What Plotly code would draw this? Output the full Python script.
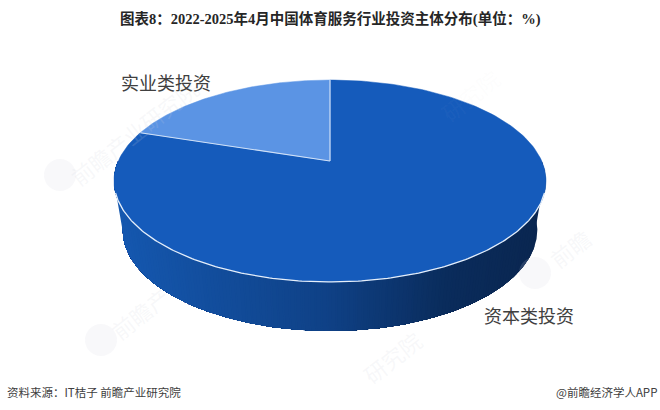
import numpy as np
import plotly.graph_objects as go

categories = ["资本类投资", "实业类投资"]
values = [80, 20]
slice_colors = ["#155BBB", "#5B94E4"]
title = "图表8：2022-2025年4月中国体育服务行业投资主体分布(单位：%)"
source = "资料来源：IT桔子 前瞻产业研究院"
credit = "@前瞻经济学人APP"

W, H = 660, 410
CX, CY = 330, 161
A, B, K = 211.7, 97.0, 0.198
DEPTH = 49
BOTTOM_SCALE = 0.96
SERIF = "Liberation Serif, Noto Sans CJK SC"
SANS = "Noto Sans CJK SC"


def project(phi):
    u, v = np.sin(phi), -np.cos(phi)
    d = 1 - K * v
    return CX + A * u / d, CY + B * v / d


def lerp_color(x):
    xs = [114, 330, 450, 546]
    r = np.interp(x, xs, [0x15, 0x0F, 0x0A, 0x0A])
    g = np.interp(x, xs, [0x58, 0x41, 0x2C, 0x26])
    b = np.interp(x, xs, [0xB0, 0x86, 0x5C, 0x50])
    return f"rgb({r:.0f},{g:.0f},{b:.0f})"


fig = go.Figure()

# extruded side: painted right to left, each shape covering everything left of it,
# so that neighbouring colours leave no seams; the far rim is slightly narrower
phis = np.linspace(np.pi * 0.5, np.pi * 1.5, 400)
rx, ry = project(phis)
bx = CX + BOTTOM_SCALE * (rx - CX)
by = ry + DEPTH
for x_edge in np.arange(546, 112, -3.0):
    keep = rx <= x_edge
    col = lerp_color(x_edge)
    fig.add_trace(go.Scatter(
        x=[*rx[keep], *bx[keep][::-1]],
        y=[*ry[keep], *by[keep][::-1]],
        mode="lines", fill="toself", fillcolor=col,
        line=dict(color=col, width=0), hoverinfo="skip", showlegend=False))

# top face slices, clockwise from twelve o'clock
total = sum(values)
start = 0.0
bounds = []
for cat, val, col in zip(categories, values, slice_colors):
    end = start + val / total * 2 * np.pi
    t = np.linspace(start, end, 200)
    x, y = project(t)
    fig.add_trace(go.Scatter(
        x=[CX, *x, CX], y=[CY, *y, CY], mode="lines", fill="toself",
        fillcolor=col, line=dict(color=col, width=0.5), name=cat,
        hoverinfo="name", showlegend=False))
    bounds.append(end)
    start = end

# pale edges: the radii between the slices and the front rim
rim = "#E6EFFA"
for phi in [0.0, bounds[0]]:
    x, y = project(np.array([phi]))
    fig.add_trace(go.Scatter(x=[CX, x[0]], y=[CY, y[0]], mode="lines",
                             line=dict(color="#CFE0F7", width=1.2),
                             hoverinfo="skip", showlegend=False))
t = np.linspace(np.pi * 0.6, np.pi * 1.4, 200)
x, y = project(t)
fig.add_trace(go.Scatter(x=x, y=y, mode="lines", line=dict(color=rim, width=1.3),
                         hoverinfo="skip", showlegend=False))

# watermark logos
fig.add_trace(go.Scatter(
    x=[60, 101, 535], y=[175, 340, 273], mode="markers",
    marker=dict(size=32, color="rgba(210,214,224,0.16)", line=dict(width=0)),
    hoverinfo="skip", showlegend=False))

annotations = []


def text(x, y, s, size, color, family=SANS, anchor="center", angle=0):
    annotations.append(dict(x=x, y=y, xref="x", yref="y", text=s, showarrow=False,
                            xanchor=anchor, yanchor="middle", textangle=angle,
                            font=dict(size=size, color=color, family=family)))


# faint watermarks
for wx, wy, s, alpha in [(134, 132, "前瞻产业研究院", 0.16), (140, 313, "前瞻产", 0.16),
                         (392, 357, "研究院", 0.16), (570, 248, "前瞻", 0.16),
                         (470, 95, "研究院", 0.05)]:
    text(wx, wy, s, 22, f"rgba(205,210,220,{alpha})", angle=-38)

text(330, 18.5, f"<b>{title}</b>", 14.5, "#262626", SERIF)
text(166, 84, categories[1], 18, "#404040", SERIF)
text(529, 317, categories[0], 18, "#404040", SERIF)
text(4.5, 392, source, 11.5, "#404040", anchor="left")
text(659, 392, credit, 11.5, "#404040", anchor="right")

fig.update_layout(
    width=W, height=H, margin=dict(l=0, r=0, t=0, b=0),
    paper_bgcolor="white", plot_bgcolor="white", showlegend=False,
    xaxis=dict(range=[0, W], visible=False, fixedrange=True),
    yaxis=dict(range=[H, 0], visible=False, fixedrange=True),
    annotations=annotations)
fig.write_html("out.html", config=dict(displayModeBar=False),
               post_script="document.body.style.margin='0';document.body.style.overflow='hidden';")
